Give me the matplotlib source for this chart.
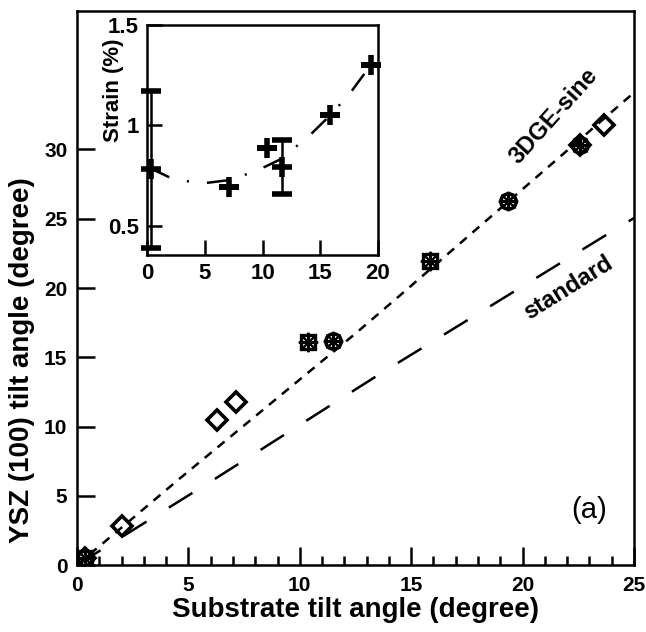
import matplotlib
matplotlib.use("Agg")
import matplotlib.pyplot as plt
from matplotlib.ticker import MultipleLocator

plt.rcParams['font.family'] = ['Liberation Sans', 'DejaVu Sans']
plt.rcParams['font.weight'] = 'bold'
plt.rcParams['lines.scale_dashes'] = False

# ---- main data ----
diamond_x = [0.36, 2.0, 6.30, 7.14, 22.57, 23.64]
diamond_y = [0.48, 2.82, 10.48, 11.74, 30.32, 31.74]
square_x = [0.36, 10.39, 15.86]
square_y = [0.48, 16.07, 21.98]
circle_x = [0.36, 11.51, 19.33, 22.57]
circle_y = [0.48, 16.15, 26.27, 30.32]
star_x = [0.36, 10.39, 11.51, 15.86, 19.33, 22.57]
star_y = [0.48, 16.07, 16.15, 21.98, 26.27, 30.32]

sine_x = [0, 2.0, 4.63, 8.0, 12.49, 14.66, 18.0, 21.0, 24.39, 25.0]
sine_y = [0, 2.7, 6.27, 10.74, 16.7, 19.69, 24.35, 28.53, 33.26, 34.1]
std_x = [0, 6.35, 13.54, 24.39, 25.0]
std_y = [0, 6.38, 13.74, 24.46, 25.05]

# ---- inset data ----
strain_x = [0.33, 7.1, 10.35, 11.65, 15.83, 19.36]
strain_y = [0.782, 0.693, 0.89, 0.794, 1.05, 1.30]
strain_err = [0.39, 0, 0, 0.136, 0, 0]
fit_x = [0.3, 2.0, 3.7, 5.3, 7.1, 8.6, 10.2, 11.5, 12.95, 14.25, 15.85, 16.6, 17.7, 18.8, 19.4]
fit_y = [0.787, 0.74, 0.72, 0.715, 0.728, 0.757, 0.794, 0.83, 0.897, 0.96, 1.05, 1.098, 1.17, 1.256, 1.30]

fig = plt.figure(figsize=(6.46, 6.32), dpi=100)
ax = fig.add_axes([0.1192, 0.1060, 0.8622, 0.8766])

ax.plot(std_x, std_y, color='k', lw=1.8, dashes=(20, 19))
ax.plot(sine_x, sine_y, color='k', lw=1.8, dashes=(6.5, 5.5))

mk = dict(ls='none', mfc='none', mec='k', color='k', zorder=5)
ax.plot(square_x, square_y, marker='s', ms=10, mew=2.4, **mk)
ax.plot(circle_x, circle_y, marker='o', ms=11, mew=2.6, **mk)
ax.plot(diamond_x, diamond_y, marker='D', ms=10, mew=2.6, **mk)
ax.plot(star_x, star_y, marker=(8, 2, 0), ms=14, mew=1.5, **mk)

ax.set_xlim(0, 25)
ax.set_ylim(0, 40)
ax.set_xticks([0, 5, 10, 15, 20, 25])
ax.xaxis.set_minor_locator(MultipleLocator(1))
ax.set_yticks([0, 5, 10, 15, 20, 25, 30])
ax.tick_params(axis='both', which='major', direction='in', length=13, width=1.8,
               labelsize=15, pad=7)
ax.tick_params(axis='x', which='major', pad=8)
ax.tick_params(axis='x', which='minor', direction='in', length=6.5, width=1.8)
for s in ax.spines.values():
    s.set_linewidth(1.8)

ax.set_xlabel('Substrate tilt angle (degree)', fontsize=20, fontweight='bold', labelpad=1)
ax.set_ylabel('YSZ (100) tilt angle (degree)', fontsize=20, fontweight='bold')
ax.yaxis.set_label_coords(-0.075, 0.37)

ax.text(21.4, 32.4, '3DGE-sine', fontsize=17, fontweight='bold', rotation=48,
        ha='center', va='center', rotation_mode='anchor')
ax.text(22.03, 20.0, 'standard', fontsize=17, fontweight='bold', rotation=32,
        ha='center', va='center', rotation_mode='anchor')
ax.text(23.0, 4.0, '(a)', fontsize=21, fontweight='normal', ha='center', va='center')

# ---- inset ----
axi = fig.add_axes([0.2276, 0.5965, 0.3576, 0.3639])
axi.plot(fit_x, fit_y, color='k', lw=1.8, dashes=(15, 13, 1.5, 13))
eb = axi.errorbar(strain_x, strain_y, yerr=strain_err, fmt='+', color='k', ms=14, mew=4,
                  elinewidth=1.8, capsize=7.5, capthick=1.8, zorder=5)
for art in eb.lines[1] + eb.lines[2]:
    art.set_clip_on(False)
for art in eb.lines[2]:
    art.set_clip_on(False)
eb.lines[0].set_clip_on(False)
axi.set_xlim(0, 20)
axi.set_ylim(0.355, 1.5)
axi.set_xticks([0, 5, 10, 15, 20])
axi.set_yticks([0.5, 1, 1.5])
axi.set_yticklabels(['0.5', '1', '1.5'])
axi.tick_params(axis='both', direction='in', length=11, width=1.8, labelsize=16, pad=6)
for s in axi.spines.values():
    s.set_linewidth(1.8)
fig.text(113 / 646, 1 - 90 / 632, 'Strain (%)', rotation=90, fontsize=16,
         fontweight='bold', ha='center', va='center')

fig.savefig('out.png', dpi=100)
